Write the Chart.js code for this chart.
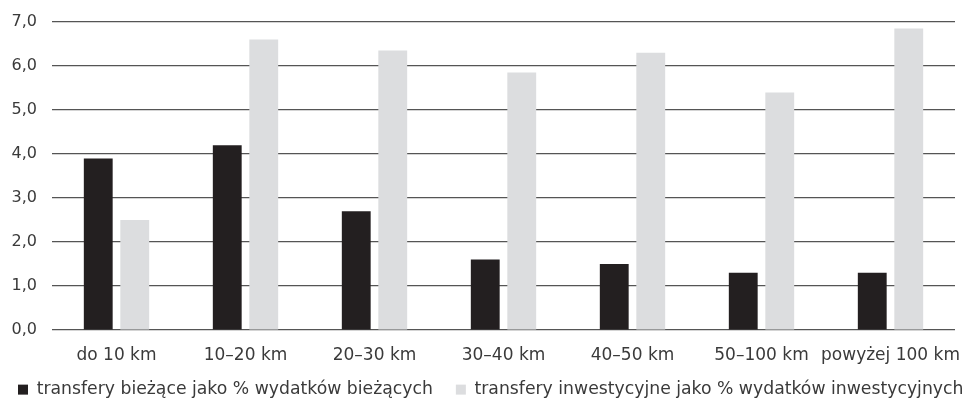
<!DOCTYPE html>
<html>
<head>
<meta charset="utf-8">
<script src="https://cdn.jsdelivr.net/npm/chart.js@4.4.1/dist/chart.umd.min.js"></script>
<style>
  html, body { margin: 0; padding: 0; background: #ffffff; }
  #wrap { width: 971px; height: 401px; position: relative; }
</style>
</head>
<body>
<div id="wrap"><canvas id="chart"></canvas></div>
<script>
// Distance bands
const categories = ['do 10 km', '10–20 km', '20–30 km', '30–40 km', '40–50 km', '50–100 km', 'powyżej 100 km'];

// Current transfers as % of current expenditure
const currentTransfers = [3.9, 4.2, 2.7, 1.6, 1.5, 1.3, 1.3];

// Investment transfers as % of investment expenditure
const investmentTransfers = [2.5, 6.6, 6.35, 5.85, 6.3, 5.4, 6.85];

const seriesNames = [
  'transfery bieżące jako % wydatków bieżących',
  'transfery inwestycyjne jako % wydatków inwestycyjnych'
];

const yTicks = [0, 1, 2, 3, 4, 5, 6, 7];

const FONT = 'DejaVu Sans';
const TEXT = '#3a3a3a';

// Single-row legend with wide item spacing, tucked under the axis labels
const legendPlacement = {
  id: 'legendPlacement',
  beforeInit(chart) {
    const legend = chart.legend;
    if (!legend) return;
    const fit = legend.fit;
    legend.fit = function () {
      this.maxWidth = 4000;
      fit.call(this);
      this.height = 24.4;
    };
  },
  afterLayout(chart) {
    const legend = chart.legend;
    if (!legend) return;
    legend.top = 358;
    legend.bottom = chart.height;
    legend.left = -5;
    legend.right = chart.width + 40;
  }
};

new Chart(document.getElementById('chart'), {
  type: 'bar',
  data: {
    labels: categories,
    datasets: [
      { label: seriesNames[0], data: currentTransfers, backgroundColor: '#231f20' },
      { label: seriesNames[1], data: investmentTransfers, backgroundColor: '#dcdddf' }
    ]
  },
  plugins: [legendPlacement],
  options: {
    responsive: true,
    maintainAspectRatio: false,
    animation: false,
    devicePixelRatio: 1,
    layout: { padding: { left: 11, right: 16, top: 22, bottom: 0 } },
    datasets: { bar: { categoryPercentage: 0.566, barPercentage: 0.79 } },
    plugins: {
      tooltip: { enabled: false },
      legend: {
        position: 'bottom',
        align: 'start',
        labels: {
          boxWidth: 10,
          boxHeight: 10,
          padding: 23,
          color: TEXT,
          font: { family: FONT, size: 17.25 }
        }
      }
    },
    scales: {
      x: {
        grid: { display: false, drawTicks: false },
        border: { display: false },
        afterFit: (scale) => {
          scale.height = 46.6;
          scale.paddingLeft = 0;
          scale.paddingRight = 0;
        },
        ticks: {
          color: TEXT,
          padding: 15,
          maxRotation: 0,
          autoSkip: false,
          font: { family: FONT, size: 17 }
        }
      },
      y: {
        min: 0,
        max: 7,
        afterBuildTicks: (axis) => { axis.ticks = yTicks.map(v => ({ value: v })); },
        afterFit: (scale) => {
          scale.width = 41;
          scale.paddingTop = 0;
          scale.paddingBottom = 0;
        },
        grid: { color: '#555555', lineWidth: 1.2, drawTicks: false },
        border: { display: false },
        ticks: {
          color: TEXT,
          padding: 15,
          font: { family: FONT, size: 16 },
          callback: (v) => Number(v).toFixed(1).replace('.', ',')
        }
      }
    }
  }
});
</script>
</body>
</html>
